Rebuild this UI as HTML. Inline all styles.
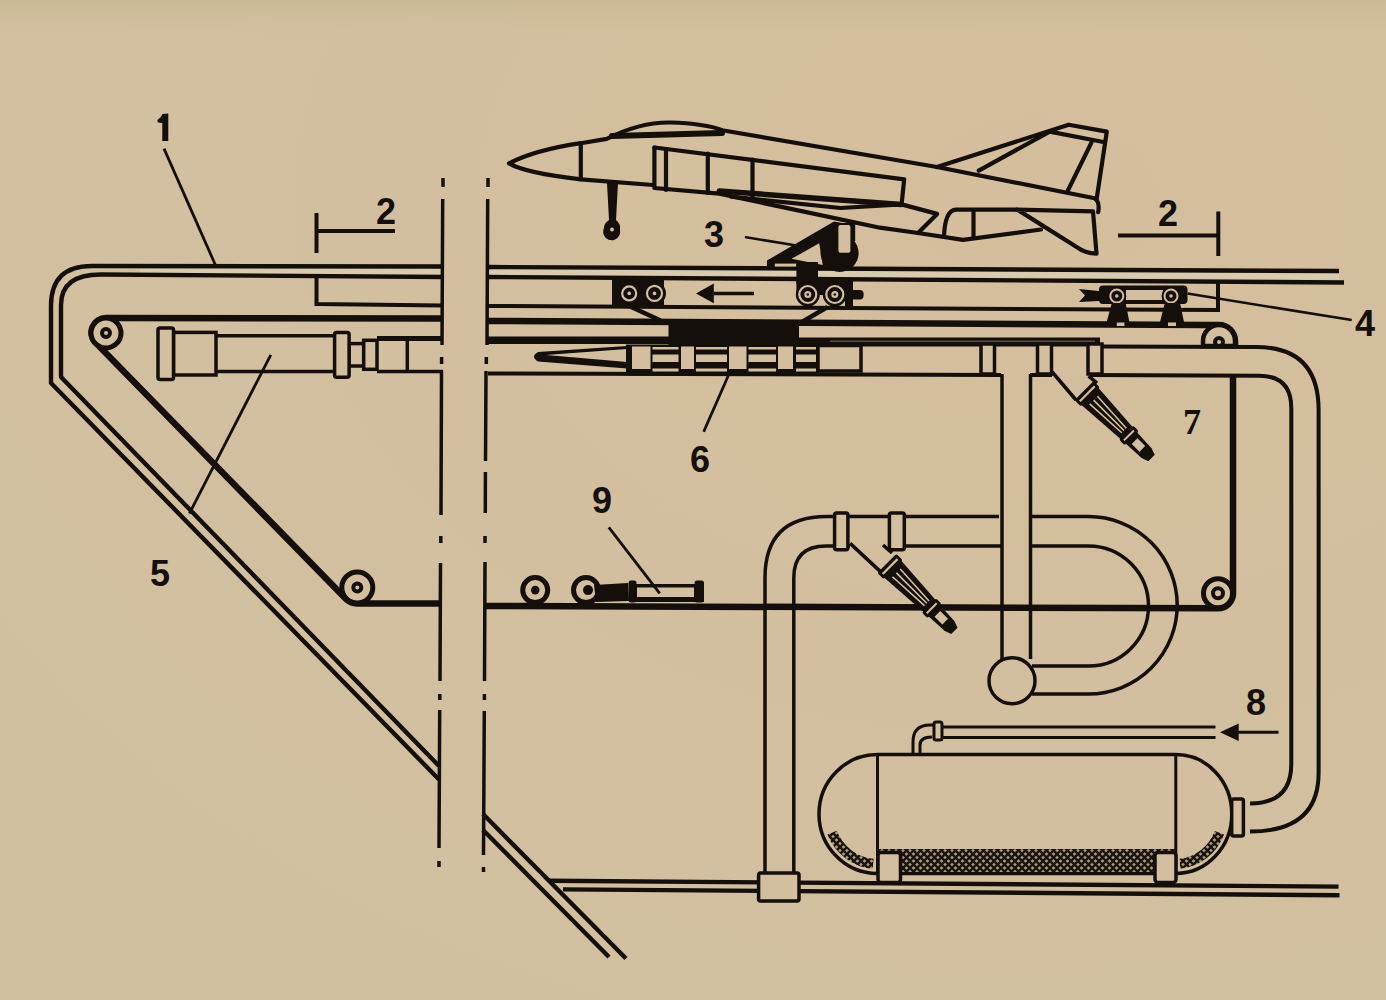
<!DOCTYPE html>
<html><head><meta charset="utf-8">
<style>
html,body{margin:0;padding:0;width:1386px;height:1000px;overflow:hidden;background:#d3bf9f;}
svg{display:block;position:absolute;left:0;top:0;}
text{font-family:"Liberation Sans",sans-serif;font-weight:bold;font-size:36px;fill:#140f0a;}
</style></head>
<body>
<svg width="1386" height="1000" viewBox="0 0 1386 1000">
<defs>
<radialGradient id="bg" cx="0.75" cy="0.2" r="0.9">
<stop offset="0" stop-color="#d5be9e"/>
<stop offset="1" stop-color="#d1c0a0"/>
</radialGradient>
</defs>
<rect x="0" y="0" width="1386" height="1000" fill="url(#bg)"/>
<linearGradient id="topg" x1="0" y1="0" x2="0" y2="1"><stop offset="0" stop-color="#c8b892" stop-opacity="0.9"/><stop offset="1" stop-color="#d3bf9f" stop-opacity="0"/></linearGradient>
<rect x="0" y="0" width="1386" height="40" fill="url(#topg)"/>

<path d="M140 268.5 L443 269 L443 274.5 L140 272.5 Z" fill="#d9cbb0"/>
<path d="M488 269.5 L1339 273.5 L1339 279.5 L488 274.5 Z" fill="#d9cbb0"/>
<g id="frame" fill="none" stroke="#140f0a" stroke-width="4.4" stroke-linejoin="round">
<path d="M443 266.5 L92 266 Q51 266 51 306 L51 383 L439 779.5"/>
<path d="M488 267 L1339 271"/>
<path d="M483 830 L609 957"/>
<path d="M443 277 L101 274.5 Q61 274.5 61 305 L61 377 L439 766"/>
<path d="M488 277 L1344 282.5"/>
<path d="M483 814 L626 958.5"/>
<!-- ground -->
<path d="M548 880.8 L1338.5 886.6"/>
<path d="M563 889.4 L1339.5 895.2"/>
</g>
<!-- dashed break lines -->
<g fill="none" stroke="#140f0a" stroke-width="3.5">
<path d="M443 178 V187 M442.7 199 L442 345 M441.6 357 V364 M441.5 371 L441 515 M440.8 536 V543 M440.5 563 L440 681 M439.8 694 V700 M439.7 710 L439 848 M439 861 V867"/>
<path d="M488 178 V187 M487.7 199 L487 345 M486.3 357 V364 M486 371 L485.5 461 M485.4 472 L485.3 513 M485 536 V543 M485 562 L484.5 681 M484.4 694 V700 M484.3 711 L483.5 855 M483.5 867 V872"/>
</g>

<!-- track interior lines left -->
<g fill="none" stroke="#140f0a" stroke-width="4">
<path d="M316.5 213 V253 M316 231 H395"/>
<path d="M316.5 276 V304 L443 305.5"/>
<path d="M1118 235.6 H1218 M1218.3 211.5 V256"/>
<path d="M488 306 L1218 310 V282"/>
</g>

<!-- belts -->
<g fill="none" stroke="#140f0a" stroke-width="6.5" stroke-linejoin="round">
<path d="M443 318.5 L106 318 A14.5 14.5 0 0 0 95.75 342.75 L345.8 598.7 A16 16 0 0 0 357.1 603.4 L441 603.6"/>
<path d="M488 321 L1204 325 Q1210 325 1219 325 A16 16 0 0 1 1235 341 L1235 346"/>
<path d="M1233 377 L1233 593.3 A15 15 0 0 1 1218 608.3 L485 606"/>
</g>
<!-- pulleys -->
<g stroke="#140f0a" fill="#d3bf9f">
<circle cx="106" cy="333" r="15" stroke-width="5"/>
<circle cx="106" cy="333" r="4" stroke-width="4"/>
<circle cx="357.3" cy="587.5" r="15.5" stroke-width="5"/>
<circle cx="357.3" cy="587.5" r="4" stroke-width="4"/>
<circle cx="1218" cy="593.3" r="14.5" stroke-width="5"/>
<circle cx="1218" cy="593.3" r="5" stroke-width="4"/>
<path d="M1203 346 V341 A16 16 0 0 1 1235 341 V346 Z" stroke-width="4.5"/>
<circle cx="1219" cy="342" r="4" stroke-width="4"/>
</g>

<!-- left cylinder -->
<g fill="#d3bf9f" stroke="#140f0a" stroke-width="3.5">
<path d="M216 335.8 H335 M216 371.6 H335" fill="none"/>
<rect x="173.5" y="332.4" width="42.5" height="42.6"/>
<rect x="158" y="328" width="15.5" height="51.4" rx="2"/>
<rect x="349" y="343.6" width="14.7" height="22.4"/>
<rect x="363.7" y="340.3" width="13.3" height="29"/>
<rect x="334.6" y="332.4" width="14.5" height="44.8" rx="2"/>
<path d="M377 338.5 H443 M377 371.6 H443 M407.3 338 V371.6" fill="none"/>
<path d="M377 338.5 H443" fill="none" stroke-width="5"/>
</g>

<!-- right of break: lines under track -->
<g fill="none" stroke="#140f0a" stroke-width="4">
<path d="M488 340.3 H670" stroke-width="7.5"/>
<path d="M488 373.5 L1001 375"/>
<path d="M799 342 H1100" stroke-width="9"/>
<path d="M830 341.2 H1095" stroke="#5a5045" stroke-width="1.6"/>
<path d="M1100 346.5 L1256 347 Q1318.6 347 1318.6 410 L1318.6 773 Q1318.6 831.5 1250 831.5"/>
<path d="M1030 375 H1052 M1090 375 L1259 375.7 Q1291.3 375.7 1291.3 408 L1291.3 764 Q1291.3 803.5 1250 803.5"/>
</g>
<!-- spear -->
<path d="M627 346 L538 352 Q530 356.5 538 361.5 L627 368.5 Z" fill="#140f0a"/>
<path d="M627 349 L546 355 L627 362 Z" fill="#d3bf9f"/>
<!-- piston band -->
<rect x="626" y="344.5" width="193" height="31" fill="#140f0a"/>
<rect x="668.5" y="320" width="130.5" height="26" fill="#140f0a"/>
<g fill="#d3bf9f">
<rect x="632" y="346.5" width="18.5" height="22.5"/>
<rect x="681" y="346.5" width="13" height="22.5"/>
<rect x="729" y="346.5" width="17.5" height="22.5"/>
<rect x="778" y="346.5" width="15" height="22.5"/>
<rect x="652.5" y="347" width="26" height="2.5"/><rect x="652.5" y="354.5" width="26" height="7.5"/><rect x="652.5" y="368.5" width="26" height="3"/>
<rect x="696" y="347" width="31" height="2.5"/><rect x="696" y="354.5" width="31" height="7.5"/><rect x="696" y="368.5" width="31" height="3"/>
<rect x="748.5" y="347" width="27.5" height="2.5"/><rect x="748.5" y="354.5" width="27.5" height="7.5"/><rect x="748.5" y="368.5" width="27.5" height="3"/>
<rect x="796" y="347" width="20" height="2.5"/><rect x="796" y="354.5" width="20" height="7.5"/><rect x="796" y="368.5" width="20" height="3"/>
</g>
<rect x="818" y="345.5" width="43" height="25.5" fill="#d3bf9f" stroke="#140f0a" stroke-width="3.5"/>

<!-- manifold collars and down pipe -->
<g fill="#d3bf9f" stroke="#140f0a" stroke-width="3.5">
<rect x="981" y="344" width="13.5" height="30"/>
<rect x="1037.5" y="344" width="14" height="30"/>
<rect x="1088" y="344" width="14" height="30"/>
</g>
<g fill="none" stroke="#140f0a" stroke-width="3.5">
<path d="M1002 374 V659 M1030.5 374 V659"/>
<!-- lower pipe with U bend -->
<path d="M999 516.6 H827 Q765 516.6 765 578 V874"/>
<path d="M1001 546 H890 M850 546 H826 Q793.8 546 793.8 578 V874"/>
<path d="M1031 516.6 H1088.5 A88.7 88.7 0 0 1 1088.5 694 H1032"/>
<path d="M1031 546 H1088.5 A60 60 0 0 1 1088.5 666 H1032"/>
</g>
<circle cx="1012" cy="680.8" r="23" fill="#d3bf9f" stroke="#140f0a" stroke-width="3.5"/>
<g fill="#d3bf9f" stroke="#140f0a" stroke-width="3.5">
<rect x="834.6" y="513" width="13.3" height="36.7" rx="2"/>
<rect x="889.4" y="513" width="14.9" height="36.7" rx="2"/>
<rect x="758.6" y="873" width="40.4" height="28" rx="2"/>
</g>
<!-- nozzles -->
<path d="M1052.2 372 L1076 400 L1098.4 386 L1097 383.2 L1088.6 376.2 Z" fill="#d3bf9f"/>
<path d="M1052.2 372 L1076 400 M1088.6 376.2 L1097 383.2" stroke="#140f0a" stroke-width="3.5" fill="none"/>
<g transform="translate(1087.2 393.7) rotate(45)">
<rect x="-4.5" y="-13.5" width="9" height="27" rx="2" fill="#140f0a"/>
<rect x="-1" y="-10.5" width="2.2" height="21" fill="#d3bf9f"/>
<path d="M4 -12 L56 -8.5 L56 8.5 L4 12 Z" fill="#140f0a"/>
<path d="M9 -5.5 L52 -3.2 M9 0 L52 0 M9 5.5 L52 3.2" stroke="#d3bf9f" stroke-width="1.6"/>
<rect x="55" y="-10" width="8" height="20" rx="2" fill="#140f0a"/>
<rect x="58" y="-7" width="2" height="14" fill="#d3bf9f"/>
<path d="M62 -8 L84 -7 L91 -4.5 L91 4.5 L84 7 L62 8 Z" fill="#140f0a"/>
<rect x="67" y="-4" width="11" height="8" fill="#d3bf9f"/>
</g>
<path d="M850.1 543.4 L880.2 571.4 L899.8 558.8 L892 553 L883 545 Z" fill="#d3bf9f"/>
<path d="M850.1 543.4 L880.2 571.4 M883 545 L892 553" stroke="#140f0a" stroke-width="3.5" fill="none"/>
<g transform="translate(890 566.5) rotate(45)">
<rect x="-4.5" y="-13.5" width="9" height="27" rx="2" fill="#140f0a"/>
<rect x="-1" y="-10.5" width="2.2" height="21" fill="#d3bf9f"/>
<path d="M4 -12 L56 -8.5 L56 8.5 L4 12 Z" fill="#140f0a"/>
<path d="M9 -5.5 L52 -3.2 M9 0 L52 0 M9 5.5 L52 3.2" stroke="#d3bf9f" stroke-width="1.6"/>
<rect x="55" y="-10" width="8" height="20" rx="2" fill="#140f0a"/>
<rect x="58" y="-7" width="2" height="14" fill="#d3bf9f"/>
<path d="M62 -8 L84 -7 L91 -4.5 L91 4.5 L84 7 L62 8 Z" fill="#140f0a"/>
<rect x="67" y="-4" width="11" height="8" fill="#d3bf9f"/>
</g>

<!-- tank -->
<defs>
<pattern id="hatch" width="7" height="7" patternUnits="userSpaceOnUse">
<rect width="7" height="7" fill="#a89a7e"/>
<path d="M-1 -1 L8 8 M8 -1 L-1 8" stroke="#1a140e" stroke-width="2.3"/>
</pattern>
<clipPath id="tankclip"><path d="M877.5 754.5 H1175.8 A56 59.5 0 0 1 1175.8 873.5 H877.5 A58.5 59.5 0 0 1 877.5 754.5 Z"/></clipPath>
</defs>
<path d="M877.5 754.5 H1175.8 A56 59.5 0 0 1 1175.8 873.5 H877.5 A58.5 59.5 0 0 1 877.5 754.5 Z" fill="#d3bf9f" stroke="#140f0a" stroke-width="3.5"/>
<rect x="877" y="849" width="299" height="23" fill="url(#hatch)"/>
<path d="M832.1 832.7 A49 50 0 0 0 873.2 863.8 M1219.4 832.7 A47 50 0 0 1 1179.9 863.8" fill="none" stroke="url(#hatch)" stroke-width="10"/>
<path d="M877.5 754.5 V873.5 M1175.8 754.5 V873.5" stroke="#140f0a" stroke-width="3" fill="none"/>
<g fill="#d3bf9f" stroke="#140f0a" stroke-width="3.5">
<rect x="878" y="852.5" width="22.5" height="30" rx="3"/>
<rect x="1155" y="852.5" width="21" height="30" rx="3"/>
<rect x="1231.7" y="799" width="11.7" height="37" rx="2"/>
</g>
<!-- pipe 8 -->
<g fill="none" stroke="#140f0a" stroke-width="3">
<path d="M940 727 H1215.5 M940 737.5 H1215.5"/>
<path d="M913 754 V742 Q913 725 930 725 L940 725"/>
<path d="M920 754 V745 Q920 737 932 737"/>
</g>
<rect x="934" y="722" width="8" height="18" rx="2" fill="#d3bf9f" stroke="#140f0a" stroke-width="3"/>
<path d="M1220 732.2 L1238.7 723.5 L1238.7 741 Z" fill="#140f0a"/>
<path d="M1236 732.2 H1278.5" stroke="#140f0a" stroke-width="3"/>

<!-- carriage left -->
<g>
<rect x="612" y="279" width="8" height="26" fill="#140f0a"/>
<rect x="612" y="280" width="52" height="25" fill="#140f0a"/>
<path d="M628 305.5 L660.6 320.5 M827.5 307 L802 322" stroke="#140f0a" stroke-width="4.5" fill="none"/>
<path d="M767 260.5 L834 221.5 L848 224 L824 270 L767 268.5 Z" fill="#140f0a"/>
<path d="M791.6 258.8 L819.2 243.2 L822.8 265 Z" fill="#d3bf9f"/>
<rect x="774.8" y="263.6" width="21.6" height="3" fill="#d3bf9f"/>
<circle cx="839.6" cy="253" r="19" fill="#140f0a"/>
<rect x="834.8" y="223" width="20.4" height="18" fill="#140f0a"/>
<rect x="838.4" y="225" width="12" height="27.8" rx="2" fill="#d3bf9f"/>
<rect x="796.4" y="262" width="21.6" height="22" fill="#140f0a"/>
<rect x="796.4" y="278" width="56.4" height="17" fill="#140f0a"/>
<rect x="845" y="278" width="8" height="28" fill="#140f0a"/>
<rect x="850" y="290" width="13.6" height="9.6" rx="4" fill="#140f0a"/>
</g>
<g>
<circle cx="629.2" cy="293.4" r="11" fill="#140f0a"/>
<circle cx="654.5" cy="293.4" r="11.5" fill="#140f0a"/>
<circle cx="807.8" cy="294.5" r="12" fill="#140f0a"/>
<circle cx="834.8" cy="294.5" r="12" fill="#140f0a"/>
</g>
<g fill="none" stroke="#d3bf9f" stroke-width="2.2">
<circle cx="629.2" cy="293.4" r="7"/><circle cx="654.5" cy="293.4" r="7.5"/>
<circle cx="807.8" cy="294.5" r="8.5"/><circle cx="834.8" cy="294.5" r="8.5"/>
</g>
<g fill="#d3bf9f">
<circle cx="629.2" cy="293.4" r="1.8"/><circle cx="654.5" cy="293.4" r="1.8"/>
<circle cx="807.8" cy="294.5" r="3.5"/><circle cx="834.8" cy="294.5" r="3.5"/>
</g>
<g fill="#140f0a">

<circle cx="807.8" cy="294.5" r="1.3"/><circle cx="834.8" cy="294.5" r="1.3"/>
</g>
<path d="M696 293.4 L713.8 283.5 L713.8 303.3 Z" fill="#140f0a"/>
<path d="M711 293.4 H754" stroke="#140f0a" stroke-width="3.5"/>

<!-- carriage right (4) -->
<rect x="1099" y="285.5" width="88.5" height="18.5" rx="4" fill="#140f0a"/>
<rect x="1126" y="290" width="37" height="10" fill="#d3bf9f"/>
<circle cx="1116.8" cy="296" r="9.5" fill="#140f0a"/>
<circle cx="1171" cy="296" r="9.5" fill="#140f0a"/>
<g fill="none" stroke="#d3bf9f" stroke-width="2"><circle cx="1116.8" cy="296" r="6.5"/><circle cx="1171" cy="296" r="6.5"/></g>
<g fill="#d3bf9f"><circle cx="1116.8" cy="296" r="1.8"/><circle cx="1171" cy="296" r="1.8"/></g>
<path d="M1079 289 L1099 291 L1099 301 L1079 302 L1085 295.5 Z" fill="#140f0a"/>
<path d="M1111.8 303 L1125.6 303 L1129.4 322 L1106.7 322 Z M1164.8 303 L1180 303 L1184 322 L1160 322 Z" fill="#140f0a"/>
<rect x="1116.8" y="322.5" width="7.6" height="3.5" fill="#d3bf9f"/><rect x="1168" y="322.5" width="8" height="3.5" fill="#d3bf9f"/>
<path d="M1187.5 293.6 L1351.7 320" stroke="#140f0a" stroke-width="2.5"/>

<!-- plane -->
<g fill="none" stroke="#140f0a" stroke-width="4.2" stroke-linejoin="round" stroke-linecap="round">
<path d="M580.8 143.2 Q535 150 509 163.4 Q525 173 580.8 179.3 L653 185"/>
<path d="M580.8 143.2 L606.8 138.9 Q640 122 670 122.5 Q705 123.5 722.2 130.2 L937 167 L1094.7 198.3 Q1100 201 1098.2 212.2"/>
<path d="M580.8 143.2 V179.3"/>
<path d="M612 136 L722 133" stroke-width="6"/>
<path d="M654.4 147.5 L904.2 179.3 L901.6 204.4"/>
<path d="M654.4 147.5 V188 L719.3 193.7 L880 227.7 L918 233 L963 239.9 L1041 229.5"/>
<path d="M666 149 V190 M707.8 153.5 V193 M752.5 159.5 V199"/>
<path d="M719.3 191 L901.6 204.4" stroke-width="5.5"/>
<path d="M731 196.6 L840.5 208 L901.6 204.4 L937.1 213.9 L918 233"/>
<path d="M937 167 L1068.7 124.7 L1106.8 131.6 L1096.5 200"/>
<path d="M978.7 170.6 L1049.7 131.6 L1103.4 142 M1091.3 142.9 L1067.9 190.5"/>
<path d="M944 236.4 Q945 210 956 209.6 L1016.8 209.6 M973.5 210.4 V238"/>
<path d="M1016.8 209.6 L1093 211.3 L1096.5 253.7 Q1085 253 1079 248.5 L1018.5 210.4"/>
<path d="M746 237.2 L796.4 245.6" stroke-width="2.5"/>
</g>
<path d="M607 183 L618 183 L616 220 Q621 224 620 230 A8.5 8.5 0 1 1 604 228 Q604 223 609 220 Z" fill="#140f0a"/>
<circle cx="612" cy="229.5" r="2" fill="#d3bf9f"/>

<!-- device 9 and rings -->
<circle cx="535.2" cy="590.1" r="12.5" fill="#d3bf9f" stroke="#140f0a" stroke-width="5"/>
<circle cx="535.2" cy="590.1" r="4.3" fill="#140f0a"/>
<circle cx="586" cy="590.1" r="12.5" fill="#d3bf9f" stroke="#140f0a" stroke-width="5"/>
<circle cx="588" cy="590.1" r="5" fill="#140f0a"/>
<path d="M594 585 L628 583 L629 601 L596 602 Z" fill="#140f0a"/>
<rect x="630" y="584" width="74" height="18" fill="#140f0a"/>
<rect x="628.5" y="580.5" width="8" height="22" rx="2.5" fill="#140f0a"/>
<rect x="694.5" y="580.5" width="9.5" height="22" rx="2.5" fill="#140f0a"/>
<rect x="637" y="587.5" width="57" height="9.5" fill="#d3bf9f"/>

<!-- leaders -->
<g fill="none" stroke="#140f0a" stroke-width="2.8">
<path d="M164 148.6 L215.4 265"/>
<path d="M270.8 354.8 L189.4 513.5"/>
<path d="M729 374 L703.7 431.8"/>
<path d="M608.8 527.4 L659.7 593.4"/>
</g>
<!-- labels -->
<path d="M162.5 114 L168.3 113.5 V141 H162.3 V123 Q160 122.5 158 122.5 Q156.5 120.5 158.5 119 Q161 117.5 162.5 114 Z" fill="#140f0a"/>
<text x="376" y="223.5">2</text>
<text x="1158" y="225.5">2</text>
<text x="704" y="246.5">3</text>
<text x="1355" y="336">4</text>
<text x="150" y="585.6">5</text>
<text x="690" y="472.2">6</text>
<text x="1183" y="433.5" style="font-family:'Liberation Serif',serif;font-size:36px;font-weight:bold">7</text>
<text x="1246" y="715">8</text>
<text x="592" y="513.3">9</text>
</svg>
</body></html>
